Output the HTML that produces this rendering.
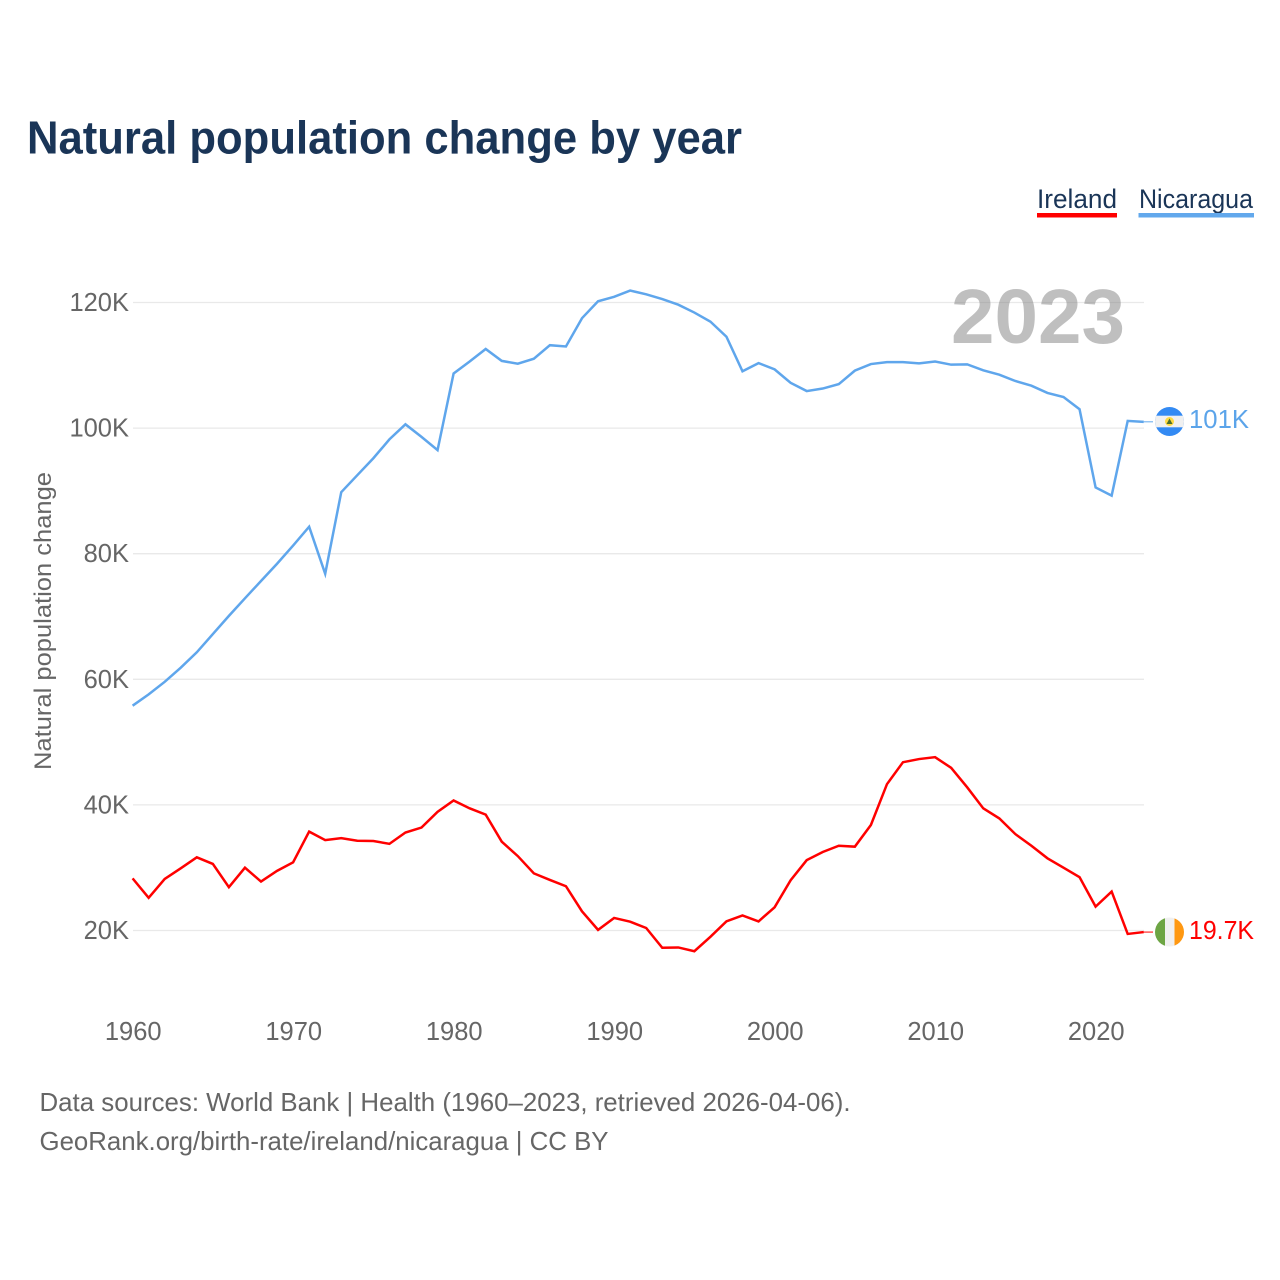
<!DOCTYPE html>
<html lang="en">
<head>
<meta charset="utf-8">
<title>Natural population change by year</title>
<style>
html,body{margin:0;padding:0;background:#fff;}
svg{display:block;font-family:"Liberation Sans",sans-serif;}
</style>
</head>
<body>
<svg id="chart" width="1280" height="1280" viewBox="0 0 1280 1280" xmlns="http://www.w3.org/2000/svg">
<rect x="0" y="0" width="1280" height="1280" fill="#ffffff"/>
<text x="27" y="153.500" font-size="46" font-weight="700" fill="#1a3557" textLength="715" lengthAdjust="spacingAndGlyphs">Natural population change by year</text>

<g>
<g>
<text x="1037" y="208" font-size="27" fill="#1a3557" textLength="80" lengthAdjust="spacingAndGlyphs">Ireland</text>
<rect x="1037" y="213" width="80" height="4.5" fill="#ff0000"/>
</g>
<g>
<text x="1139" y="208" font-size="27" fill="#1a3557" textLength="114" lengthAdjust="spacingAndGlyphs">Nicaragua</text>
<rect x="1138.500" y="213" width="115.500" height="4.5" fill="#62a8ec"/>
</g>
</g>

<g id="grid"></g>
<g id="ylabels"></g>
<g id="xlabels"></g>

<text x="951" y="343" font-size="77" font-weight="700" fill="#808080" fill-opacity="0.5" textLength="174" lengthAdjust="spacingAndGlyphs">2023</text>

<text transform="translate(51,621) rotate(-90)" text-anchor="middle" font-size="24.5" fill="#666666" textLength="298" lengthAdjust="spacingAndGlyphs">Natural population change</text>

<g id="series"></g>

<g>
<clipPath id="clip-ni"><circle cx="1169.500" cy="421.500" r="14.500"/></clipPath>
<g clip-path="url(#clip-ni)">
<rect x="1154" y="406" width="31" height="31" fill="#338af3"/>
<rect x="1154" y="415.700" width="31" height="11.600" fill="#f0f0f0"/>
</g>
<circle cx="1169.500" cy="421.500" r="4.500" fill="#ffda44"/>
<polygon points="1169.500,418.500 1172.500,424 1166.500,424" fill="#496e2d"/>
</g>
<g>
<clipPath id="clip-ie"><circle cx="1169.500" cy="932" r="14.500"/></clipPath>
<g clip-path="url(#clip-ie)">
<rect x="1154" y="917" width="31" height="30" fill="#f0f0f0"/>
<rect x="1154" y="917" width="11" height="30" fill="#6da544"/>
<rect x="1174.500" y="917" width="11" height="30" fill="#ff9811"/>
</g>
</g>

<text id="value-ni" x="1189" y="428" font-size="25.5" fill="#5ba4ea" textLength="60" lengthAdjust="spacingAndGlyphs">101K</text>
<text id="value-ie" x="1189" y="939" font-size="25.5" fill="#ff0000" textLength="65" lengthAdjust="spacingAndGlyphs">19.7K</text>

<text x="39.500" y="1111" font-size="26" fill="#666666" textLength="811" lengthAdjust="spacingAndGlyphs">Data sources: World Bank | Health (1960–2023, retrieved 2026-04-06).</text>
<text x="39.500" y="1150" font-size="26" fill="#666666" textLength="569" lengthAdjust="spacingAndGlyphs">GeoRank.org/birth-rate/ireland/nicaragua | CC BY</text>
</svg>
<script>
const startYear = 1960;
const yTicks = [20, 40, 60, 80, 100, 120];
const xTicks = [1960, 1970, 1980, 1990, 2000, 2010, 2020];
const nicaragua = [
55.8,57.6,59.6,61.85,64.3,67.2,70.1,72.9,75.65,78.4,
81.3,84.3,76.8,89.8,92.5,95.2,98.2,100.6,98.6,96.5,
108.7,110.6,112.6,110.7,110.25,111.05,113.2,113.0,117.5,120.2,
120.9,121.9,121.3,120.55,119.65,118.4,116.95,114.55,109.05,110.35,
109.35,107.2,105.9,106.3,107.0,109.15,110.2,110.5,110.5,110.3,
110.6,110.1,110.15,109.2,108.5,107.5,106.75,105.6,104.95,103.0,
90.55,89.25,101.15,101.0];
const ireland = [
28.3,25.2,28.2,29.9,31.65,30.6,26.9,30.0,27.8,29.5,
30.85,35.75,34.4,34.7,34.3,34.25,33.8,35.6,36.4,38.9,
40.7,39.45,38.45,34.15,31.85,29.1,28.05,27.05,23.05,20.1,
22.0,21.4,20.4,17.25,17.3,16.7,19.0,21.45,22.4,21.45,
23.7,28.0,31.2,32.5,33.5,33.35,36.8,43.3,46.8,47.3,
47.6,45.9,42.8,39.45,37.85,35.35,33.5,31.5,30.0,28.5,
23.8,26.2,19.45,19.75];

const NS = 'http://www.w3.org/2000/svg';
function xScale(year) { return 132.6 + (year - 1960) * 16.05; }
function yScale(k) { return 930.5 - (k - 20) * 6.28; }

const gridG = document.getElementById('grid');
const yLabG = document.getElementById('ylabels');
const xLabG = document.getElementById('xlabels');
const seriesG = document.getElementById('series');

yTicks.forEach(function (t) {
  const line = document.createElementNS(NS, 'line');
  
  
  line.setAttribute('x1', 133);
  line.setAttribute('x2', 1144);
  line.setAttribute('y1', yScale(t));
  line.setAttribute('y2', yScale(t));
  line.setAttribute('stroke', '#e9e9e9');
  line.setAttribute('stroke-width', '1.3');
  gridG.appendChild(line);
  const label = document.createElementNS(NS, 'text');
  
  
  label.setAttribute('x', 129);
  label.setAttribute('y', yScale(t) + 8.5);
  label.setAttribute('text-anchor', 'end');
  label.setAttribute('font-size', '25.5');
  label.setAttribute('fill', '#666666');
  label.textContent = t + 'K';
  yLabG.appendChild(label);
});

xTicks.forEach(function (t) {
  const label = document.createElementNS(NS, 'text');
  
  
  label.setAttribute('x', xScale(t) + 0.6);
  label.setAttribute('y', 1040);
  label.setAttribute('text-anchor', 'middle');
  label.setAttribute('font-size', '25.5');
  label.setAttribute('fill', '#666666');
  label.textContent = String(t);
  xLabG.appendChild(label);
});

function pointsFor(values) {
  return values.map(function (v, i) {
    return xScale(startYear + i).toFixed(2) + ',' + yScale(v).toFixed(2);
  }).join(' ');
}

const niLine = document.createElementNS(NS, 'polyline');


niLine.setAttribute('points', pointsFor(nicaragua));
niLine.setAttribute('fill', 'none');
niLine.setAttribute('stroke', '#5fa6ec');
niLine.setAttribute('stroke-width', '2.5');
seriesG.appendChild(niLine);

const ieLine = document.createElementNS(NS, 'polyline');


ieLine.setAttribute('points', pointsFor(ireland));
ieLine.setAttribute('fill', 'none');
ieLine.setAttribute('stroke', '#ff0000');
ieLine.setAttribute('stroke-width', '2.5');
seriesG.appendChild(ieLine);

const niLead = document.createElementNS(NS, 'line');


niLead.setAttribute('x1', xScale(2023));
niLead.setAttribute('x2', 1153);
niLead.setAttribute('y1', yScale(nicaragua[nicaragua.length - 1]));
niLead.setAttribute('y2', yScale(nicaragua[nicaragua.length - 1]));
niLead.setAttribute('stroke', '#62a8ec');
niLead.setAttribute('stroke-width', '1');
seriesG.appendChild(niLead);

const ieLead = document.createElementNS(NS, 'line');


ieLead.setAttribute('x1', xScale(2023));
ieLead.setAttribute('x2', 1153);
ieLead.setAttribute('y1', yScale(ireland[ireland.length - 1]));
ieLead.setAttribute('y2', yScale(ireland[ireland.length - 1]));
ieLead.setAttribute('stroke', '#ff0000');
ieLead.setAttribute('stroke-width', '1');
seriesG.appendChild(ieLead);
</script>
</body>
</html>
